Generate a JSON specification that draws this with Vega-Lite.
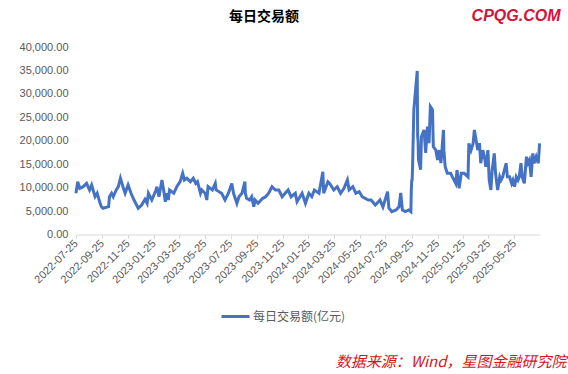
{
 "$schema": "https://vega.github.io/schema/vega-lite/v6.json",
 "width": 464, "height": 187.5,
 "autosize": "none",
 "padding": {"left": 76, "top": 47, "right": 28, "bottom": 139.5},
 "background": "white",
 "config": {"view": {"stroke": null}, "font": "Liberation Sans"},
 "title": {"text": "每日交易额", "font": "Noto Sans CJK SC", "fontSize": 14, "fontWeight": "bold", "color": "#000000", "anchor": "middle", "dx": -44, "offset": 20, "dy": 37},
 "data": {"values": [
  {"d":"2022-07-25","v":8800},{"d":"2022-07-29","v":11250},{"d":"2022-08-03","v":9850},{"d":"2022-08-11","v":10200},{"d":"2022-08-19","v":10900},{"d":"2022-08-26","v":9500},{"d":"2022-08-31","v":10550},{"d":"2022-09-08","v":8070},{"d":"2022-09-13","v":8800},{"d":"2022-09-20","v":6650},{"d":"2022-09-23","v":5930},{"d":"2022-09-27","v":5590},{"d":"2022-10-10","v":5930},{"d":"2022-10-12","v":8060},{"d":"2022-10-17","v":8800},{"d":"2022-10-21","v":8060},{"d":"2022-10-28","v":9500},{"d":"2022-11-02","v":10200},{"d":"2022-11-07","v":12000},{"d":"2022-11-14","v":9850},{"d":"2022-11-18","v":8800},{"d":"2022-11-25","v":10560},{"d":"2022-12-02","v":8800},{"d":"2022-12-09","v":7360},{"d":"2022-12-19","v":5590},{"d":"2022-12-27","v":6300},
  {"d":"2023-01-04","v":7500},{"d":"2023-01-09","v":6650},{"d":"2023-01-12","v":8800},{"d":"2023-01-20","v":7360},{"d":"2023-01-30","v":9500},{"d":"2023-02-01","v":10200},{"d":"2023-02-06","v":8060},{"d":"2023-02-13","v":11630},{"d":"2023-02-17","v":9500},{"d":"2023-02-21","v":7000},{"d":"2023-02-24","v":8800},{"d":"2023-02-28","v":7360},{"d":"2023-03-03","v":9500},{"d":"2023-03-13","v":8800},{"d":"2023-03-20","v":10200},{"d":"2023-03-28","v":11260},{"d":"2023-04-03","v":13050},{"d":"2023-04-07","v":11630},{"d":"2023-04-13","v":12000},{"d":"2023-04-21","v":11260},{"d":"2023-04-28","v":12000},{"d":"2023-05-04","v":10900},{"d":"2023-05-08","v":11260},{"d":"2023-05-15","v":8800},{"d":"2023-05-18","v":9500},{"d":"2023-05-26","v":8800},{"d":"2023-05-30","v":7360},{"d":"2023-06-02","v":10200},{"d":"2023-06-12","v":9500},{"d":"2023-06-19","v":10900},{"d":"2023-06-21","v":9500},{"d":"2023-06-30","v":9000},{"d":"2023-07-04","v":8800},{"d":"2023-07-12","v":7360},{"d":"2023-07-20","v":8800},{"d":"2023-07-28","v":10900},{"d":"2023-08-01","v":8800},{"d":"2023-08-09","v":6650},{"d":"2023-08-14","v":8060},{"d":"2023-08-21","v":8800},{"d":"2023-08-28","v":11260},{"d":"2023-08-29","v":8800},{"d":"2023-09-01","v":7720},{"d":"2023-09-08","v":7360},{"d":"2023-09-13","v":8060},{"d":"2023-09-18","v":5930},{"d":"2023-09-21","v":7360},{"d":"2023-09-28","v":6650},{"d":"2023-10-09","v":7720},{"d":"2023-10-16","v":8060},{"d":"2023-10-23","v":8800},{"d":"2023-10-31","v":10200},{"d":"2023-11-08","v":9500},{"d":"2023-11-16","v":9500},{"d":"2023-11-24","v":8060},{"d":"2023-12-01","v":8800},{"d":"2023-12-08","v":9500},{"d":"2023-12-15","v":8060},{"d":"2023-12-25","v":8800},{"d":"2023-12-29","v":7000},
  {"d":"2024-01-05","v":8060},{"d":"2024-01-10","v":8800},{"d":"2024-01-18","v":6650},{"d":"2024-01-26","v":8800},{"d":"2024-02-02","v":8060},{"d":"2024-02-08","v":9500},{"d":"2024-02-19","v":8800},{"d":"2024-02-28","v":13400},{"d":"2024-03-01","v":8800},{"d":"2024-03-11","v":11260},{"d":"2024-03-15","v":10900},{"d":"2024-03-25","v":9500},{"d":"2024-04-02","v":10200},{"d":"2024-04-10","v":8800},{"d":"2024-04-18","v":9850},{"d":"2024-04-26","v":11630},{"d":"2024-04-30","v":9500},{"d":"2024-05-09","v":10200},{"d":"2024-05-16","v":8800},{"d":"2024-05-24","v":9130},{"d":"2024-05-31","v":8060},{"d":"2024-06-07","v":7720},{"d":"2024-06-14","v":7360},{"d":"2024-06-21","v":7360},{"d":"2024-07-01","v":6300},{"d":"2024-07-05","v":6650},{"d":"2024-07-12","v":7350},{"d":"2024-07-19","v":5900},{"d":"2024-07-30","v":9130},{"d":"2024-08-02","v":5650},{"d":"2024-08-09","v":4870},{"d":"2024-08-19","v":5230},{"d":"2024-08-26","v":5900},{"d":"2024-08-30","v":8850},{"d":"2024-09-03","v":5230},{"d":"2024-09-10","v":4870},{"d":"2024-09-18","v":5230},{"d":"2024-09-23","v":4870},{"d":"2024-09-24","v":9500},{"d":"2024-09-25","v":11500},{"d":"2024-09-26","v":11600},{"d":"2024-09-27","v":14400},{"d":"2024-09-30","v":26600},{"d":"2024-10-08","v":34900},{"d":"2024-10-09","v":21000},{"d":"2024-10-10","v":20000},{"d":"2024-10-11","v":16000},{"d":"2024-10-16","v":13800},{"d":"2024-10-18","v":20900},{"d":"2024-10-24","v":22300},{"d":"2024-10-28","v":17400},{"d":"2024-11-01","v":23000},{"d":"2024-11-05","v":19500},{"d":"2024-11-08","v":27300},{"d":"2024-11-13","v":26600},{"d":"2024-11-15","v":18700},{"d":"2024-11-21","v":18000},{"d":"2024-11-25","v":15900},{"d":"2024-11-29","v":18000},{"d":"2024-12-03","v":15250},{"d":"2024-12-09","v":22300},{"d":"2024-12-10","v":18000},{"d":"2024-12-13","v":14460},{"d":"2024-12-18","v":13050},{"d":"2024-12-26","v":13050},{"d":"2024-12-30","v":12300},
  {"d":"2025-01-07","v":10900},{"d":"2025-01-10","v":13750},{"d":"2025-01-15","v":9850},{"d":"2025-01-20","v":13050},{"d":"2025-01-27","v":13050},{"d":"2025-02-05","v":12300},{"d":"2025-02-07","v":19450},{"d":"2025-02-12","v":18000},{"d":"2025-02-17","v":19450},{"d":"2025-02-20","v":22300},{"d":"2025-02-24","v":20150},{"d":"2025-02-28","v":18000},{"d":"2025-03-04","v":19500},{"d":"2025-03-07","v":15200},{"d":"2025-03-12","v":18000},{"d":"2025-03-17","v":15900},{"d":"2025-03-19","v":14460},{"d":"2025-03-24","v":18000},{"d":"2025-03-27","v":11600},{"d":"2025-03-31","v":9500},{"d":"2025-04-03","v":13750},{"d":"2025-04-08","v":17300},{"d":"2025-04-11","v":13100},{"d":"2025-04-16","v":9500},{"d":"2025-04-21","v":12300},{"d":"2025-04-24","v":11600},{"d":"2025-04-28","v":12300},{"d":"2025-04-30","v":13100},{"d":"2025-05-06","v":15200},{"d":"2025-05-09","v":12300},{"d":"2025-05-14","v":12300},{"d":"2025-05-19","v":10900},{"d":"2025-05-22","v":11600},{"d":"2025-05-26","v":10200},{"d":"2025-05-30","v":12300},{"d":"2025-06-03","v":11600},{"d":"2025-06-06","v":12300},{"d":"2025-06-10","v":15200},{"d":"2025-06-13","v":12300},{"d":"2025-06-18","v":10900},{"d":"2025-06-23","v":16600},{"d":"2025-06-26","v":15200},{"d":"2025-06-30","v":15900},{"d":"2025-07-04","v":12300},{"d":"2025-07-08","v":17300},{"d":"2025-07-11","v":15200},{"d":"2025-07-16","v":16600},{"d":"2025-07-21","v":15200},{"d":"2025-07-24","v":19450}
 ]},
 "mark": {"type": "line", "strokeWidth": 3},
 "encoding": {
  "x": {"field": "d", "type": "temporal",
   "scale": {"type": "utc", "domain": [{"year":2022,"month":7,"date":25,"utc":true},{"year":2025,"month":7,"date":25,"utc":true}]},
   "axis": {"values": [
     {"year":2022,"month":7,"date":25,"utc":true},{"year":2022,"month":9,"date":25,"utc":true},{"year":2022,"month":11,"date":25,"utc":true},
     {"year":2023,"month":1,"date":25,"utc":true},{"year":2023,"month":3,"date":25,"utc":true},{"year":2023,"month":5,"date":25,"utc":true},{"year":2023,"month":7,"date":25,"utc":true},{"year":2023,"month":9,"date":25,"utc":true},{"year":2023,"month":11,"date":25,"utc":true},
     {"year":2024,"month":1,"date":25,"utc":true},{"year":2024,"month":3,"date":25,"utc":true},{"year":2024,"month":5,"date":25,"utc":true},{"year":2024,"month":7,"date":25,"utc":true},{"year":2024,"month":9,"date":25,"utc":true},{"year":2024,"month":11,"date":25,"utc":true},
     {"year":2025,"month":1,"date":25,"utc":true},{"year":2025,"month":3,"date":25,"utc":true},{"year":2025,"month":5,"date":25,"utc":true}],
    "format": "%Y-%m-%d", "labelAngle": -45, "labelAlign": "right", "labelBaseline": "middle", "labelPadding": 3,
    "labelColor": "#595959", "labelFontSize": 11, "labelFont": "Liberation Sans", "labelOverlap": false, "labelFlush": false,
    "domainColor": "#d9d9d9", "tickColor": "#d9d9d9", "tickSize": 4, "grid": false,
    "title": "数据来源：Wind，星图金融研究院", "titleFont": "Noto Sans CJK SC", "titleFontSize": 15, "titleFontStyle": "italic", "titleFontWeight": "normal", "titleColor": "#d7141d",
    "titleX": 490, "titleY": 131.5, "titleAlign": "right", "titleBaseline": "alphabetic", "titleAnchor": null}},
  "y": {"field": "v", "type": "quantitative", "scale": {"domain": [0, 40000], "nice": false},
   "axis": {"values": [0,5000,10000,15000,20000,25000,30000,35000,40000], "format": ",.2f", "ticks": false, "domain": false, "grid": false,
    "labelPadding": 8, "labelColor": "#595959", "labelFontSize": 11, "labelFont": "Liberation Sans",
    "title": "CPQG.COM", "titleFont": "Liberation Sans", "titleFontSize": 16, "titleFontStyle": "italic", "titleFontWeight": "bold", "titleColor": "#d2143a",
    "titleAngle": 0, "titleX": 484, "titleY": -27, "titleAlign": "right", "titleBaseline": "alphabetic"}},
  "color": {"datum": "每日交易额(亿元)", "scale": {"range": ["#4472C4"]},
   "legend": {"title": null, "orient": "none", "legendX": 144, "legendY": 254, "direction": "horizontal",
    "symbolType": "stroke", "symbolStrokeWidth": 3, "symbolSize": 784, "labelFont": "Noto Sans CJK SC", "labelFontSize": 12, "labelColor": "#595959", "labelOffset": 2}}
 }
}
